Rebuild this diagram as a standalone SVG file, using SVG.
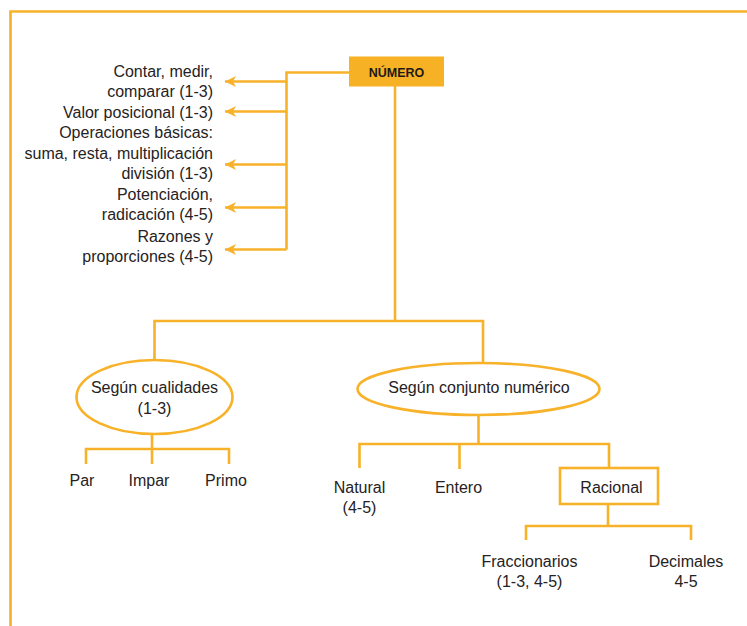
<svg xmlns="http://www.w3.org/2000/svg" width="747" height="626" viewBox="0 0 747 626">
  <style>
    .ln { fill: none; stroke: #F8B229; stroke-width: 2.6; }
    .shape { fill: #FFFFFF; stroke: #F8B229; stroke-width: 2.6; }
    .t { font-family: "Liberation Sans", Arial, sans-serif; font-size: 16px; fill: #262223; }
    .r { text-anchor: end; }
    .c { text-anchor: middle; }
    .b { font-weight: bold; font-size: 12.5px; fill: #1F1A17; }
  </style>
  <defs>
    <marker id="ah" markerUnits="userSpaceOnUse" markerWidth="12" markerHeight="12" viewBox="0 0 12 12" refX="11" refY="6" orient="auto">
      <path d="M11,6 L0,0.5 L3,6 L0,11.5 Z" fill="#F8B229"/>
    </marker>
  </defs>
  <rect width="747" height="626" fill="#FFFFFF"/>

  <!-- page frame -->
  <path d="M10.5,626 V11.5 H747" fill="none" stroke="#F8B229" stroke-width="2.7"/>

  <!-- connectors -->
  <g id="connectors">
    <!-- left list bracket -->
    <path class="ln" d="M349,72.5 H286.5 V249.5"/>
    <path class="ln" d="M286.5,81.5 H225" marker-end="url(#ah)"/>
    <path class="ln" d="M286.5,111.5 H225" marker-end="url(#ah)"/>
    <path class="ln" d="M286.5,164.5 H225" marker-end="url(#ah)"/>
    <path class="ln" d="M286.5,207.5 H225" marker-end="url(#ah)"/>
    <path class="ln" d="M286.5,249.5 H225" marker-end="url(#ah)"/>
    <!-- trunk to the two classifications -->
    <path class="ln" d="M395,86 V321"/>
    <path class="ln" d="M154.5,360 V321 H483 V362.5"/>
    <!-- cualidades children -->
    <path class="ln" d="M152,434 V449"/>
    <path class="ln" d="M86,464 V449 H229 V464"/>
    <path class="ln" d="M152,449 V464"/>
    <!-- conjunto children -->
    <path class="ln" d="M478.5,415 V444"/>
    <path class="ln" d="M359.5,468 V444 H609 V468"/>
    <path class="ln" d="M459.5,444 V469"/>
    <!-- racional children -->
    <path class="ln" d="M608,504 V526"/>
    <path class="ln" d="M526,540 V526 H691 V540"/>
  </g>

  <!-- root -->
  <g id="numero">
    <rect x="349" y="56.5" width="95" height="30" fill="#F7B125"/>
    <text class="t c b" x="396.5" y="77">NÚMERO</text>
  </g>

  <!-- uses list -->
  <g id="usos">
    <text class="t r" x="213" y="76.5">Contar, medir,</text>
    <text class="t r" x="213" y="97">comparar (1-3)</text>
    <text class="t r" x="213" y="117.5">Valor posicional (1-3)</text>
    <text class="t r" x="213" y="137.5">Operaciones básicas:</text>
    <text class="t r" x="213" y="158.5">suma, resta, multiplicación</text>
    <text class="t r" x="213" y="179">división (1-3)</text>
    <text class="t r" x="213" y="199.5">Potenciación,</text>
    <text class="t r" x="213" y="220">radicación (4-5)</text>
    <text class="t r" x="213" y="241.5">Razones y</text>
    <text class="t r" x="213" y="262">proporciones (4-5)</text>
  </g>

  <g id="cualidades">
    <ellipse class="shape" cx="154.5" cy="397" rx="78" ry="37"/>
    <text class="t c" x="154.5" y="392.5">Según cualidades</text>
    <text class="t c" x="154.5" y="413.5">(1-3)</text>
  </g>

  <g id="par"><text class="t c" x="82" y="485.5">Par</text></g>
  <g id="impar"><text class="t c" x="149" y="485.5">Impar</text></g>
  <g id="primo"><text class="t c" x="226" y="485.5">Primo</text></g>

  <g id="conjunto">
    <ellipse class="shape" cx="478.5" cy="389" rx="121" ry="26"/>
    <text class="t c" x="479" y="392.5">Según conjunto numérico</text>
  </g>

  <g id="natural">
    <text class="t c" x="359.5" y="492.5">Natural</text>
    <text class="t c" x="359.5" y="513">(4-5)</text>
  </g>
  <g id="entero"><text class="t c" x="458.5" y="492.5">Entero</text></g>

  <g id="racional">
    <rect class="shape" x="560" y="468" width="98" height="36"/>
    <text class="t c" x="611.5" y="492.5">Racional</text>
  </g>

  <g id="fraccionarios">
    <text class="t c" x="529.5" y="566.5">Fraccionarios</text>
    <text class="t c" x="529.5" y="587">(1-3, 4-5)</text>
  </g>
  <g id="decimales">
    <text class="t c" x="686" y="566.5">Decimales</text>
    <text class="t c" x="686" y="587">4-5</text>
  </g>
</svg>
